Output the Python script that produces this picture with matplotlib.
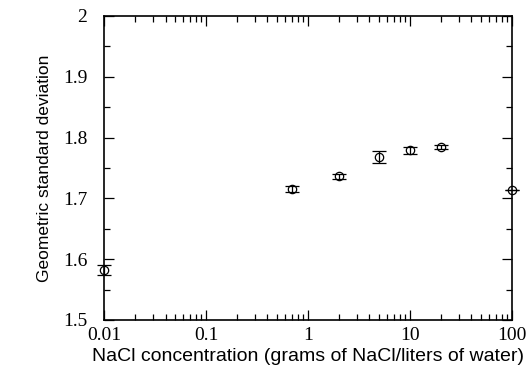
import matplotlib.pyplot as plt
from matplotlib.ticker import FixedLocator, LogLocator, NullFormatter

# NaCl concentration (g/L) and geometric standard deviation
nacl = [0.01, 0.7, 2, 5, 10, 20, 100]
gsd = [1.582, 1.716, 1.736, 1.768, 1.779, 1.785, 1.713]
gsd_err = [0.008, 0.005, 0.004, 0.010, 0.006, 0.003, 0.0]

x_ticks = [0.01, 0.1, 1, 10, 100]
x_labels = ['0.01', '0.1', '1', '10', '100']
y_ticks = [1.5, 1.6, 1.7, 1.8, 1.9, 2.0]
y_labels = ['1.5', '1.6', '1.7', '1.8', '1.9', '2']

fig = plt.figure(figsize=(5.26, 3.72), dpi=100)
ax = fig.add_axes([0.198, 0.140, 0.775, 0.817])

ax.errorbar(nacl, gsd, yerr=gsd_err, fmt='o', mfc='none', mec='black',
            ms=6, mew=0.9, ecolor='black', elinewidth=0.9, capsize=5,
            capthick=0.9, clip_on=False)

ax.set_xscale('log')
ax.set_xlim(0.01, 100)
ax.set_ylim(1.5, 2.0)

ax.xaxis.set_major_locator(FixedLocator(x_ticks))
ax.set_xticklabels(x_labels)
ax.xaxis.set_minor_locator(LogLocator(base=10, subs=range(2, 10)))
ax.xaxis.set_minor_formatter(NullFormatter())
ax.yaxis.set_major_locator(FixedLocator(y_ticks))
ax.set_yticklabels(y_labels)
ax.yaxis.set_minor_locator(FixedLocator([1.55, 1.65, 1.75, 1.85, 1.95]))

ax.tick_params(which='both', direction='in', top=True, right=True, width=0.9)
ax.tick_params(which='major', length=7, labelsize=14)
ax.tick_params(which='minor', length=4)
ax.tick_params(axis='x', which='major', pad=5)
ax.tick_params(axis='y', which='major', pad=12)
for lab in ax.get_xticklabels() + ax.get_yticklabels():
    lab.set_family('Liberation Serif')

for s in ax.spines.values():
    s.set_linewidth(1.2)

ax.set_xlabel('NaCl concentration (grams of NaCl/liters of water)',
              family='Liberation Sans', fontsize=14, labelpad=3)
ax.set_ylabel('Geometric standard deviation', family='Liberation Sans',
              fontsize=12.5, labelpad=8)

fig.savefig('out.png', dpi=100)
